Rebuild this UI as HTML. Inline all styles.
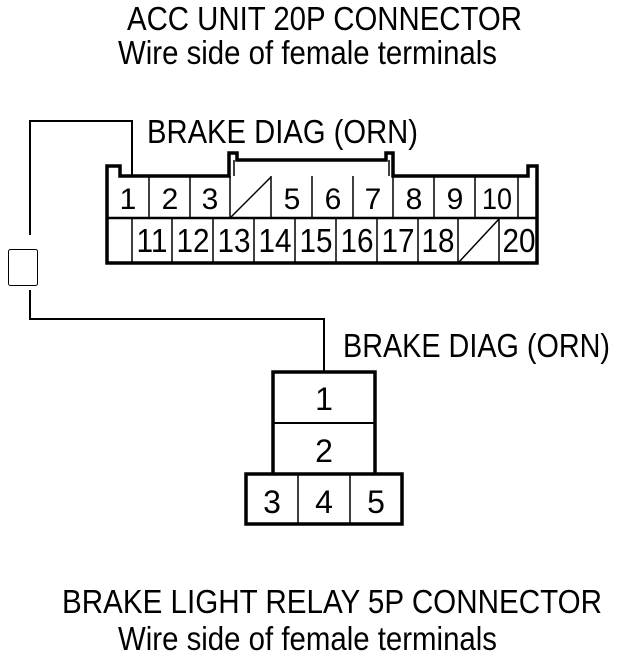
<!DOCTYPE html>
<html><head><meta charset="utf-8"><style>
html,body{margin:0;padding:0;background:#fff}
svg{display:block}
text{font-family:"Liberation Sans",Arial,sans-serif;fill:#000}
</style></head><body>
<svg width="624" height="660" viewBox="0 0 624 660" xmlns="http://www.w3.org/2000/svg">
<g font-size="33">
<text x="127" y="30" textLength="395" lengthAdjust="spacingAndGlyphs">ACC UNIT 20P CONNECTOR</text>
<text x="118" y="64" textLength="379" lengthAdjust="spacingAndGlyphs">Wire side of female terminals</text>
<text x="147" y="143" textLength="271" lengthAdjust="spacingAndGlyphs">BRAKE DIAG (ORN)</text>
<text x="343" y="357" textLength="267" lengthAdjust="spacingAndGlyphs">BRAKE DIAG (ORN)</text>
<text x="62" y="613" textLength="540" lengthAdjust="spacingAndGlyphs">BRAKE LIGHT RELAY 5P CONNECTOR</text>
<text x="118" y="650" textLength="379" lengthAdjust="spacingAndGlyphs">Wire side of female terminals</text>
</g>
<polyline points="132,176 132,121 30,121 30,235" fill="none" stroke="#000" stroke-width="2"/>
<rect x="8.5" y="249.5" width="29" height="36" rx="2" fill="none" stroke="#000" stroke-width="1"/>
<polyline points="30,290 30,319 324,319 324,372" fill="none" stroke="#000" stroke-width="2"/>
<g fill="none" stroke="#000">
<path d="M107,263 L107,166 L120,166 L120,176 L229,176 L229,153 L237,153 L237,160 L386,160 L386,153 L393,153 L393,176 L528,176 L528,166 L537,166 L537,263 Z" stroke-width="3.5"/>
<line x1="234" y1="160" x2="234" y2="176" stroke-width="1.5"/>
<line x1="389" y1="160" x2="389" y2="176" stroke-width="1.5"/>
<line x1="107" y1="218" x2="537" y2="218" stroke-width="2.5"/>
<g stroke-width="1.5">
<line x1="149" y1="176" x2="149" y2="218"/><line x1="190" y1="176" x2="190" y2="218"/>
<line x1="230" y1="176" x2="230" y2="218"/><line x1="271" y1="176" x2="271" y2="218"/>
<line x1="312" y1="176" x2="312" y2="218"/><line x1="353" y1="176" x2="353" y2="218"/>
<line x1="393" y1="176" x2="393" y2="218"/><line x1="434" y1="176" x2="434" y2="218"/>
<line x1="475" y1="176" x2="475" y2="218"/><line x1="518" y1="176" x2="518" y2="218"/>
<line x1="132" y1="218" x2="132" y2="263"/><line x1="172" y1="218" x2="172" y2="263"/>
<line x1="213" y1="218" x2="213" y2="263"/><line x1="254" y1="218" x2="254" y2="263"/>
<line x1="295" y1="218" x2="295" y2="263"/><line x1="336" y1="218" x2="336" y2="263"/>
<line x1="377" y1="218" x2="377" y2="263"/><line x1="418" y1="218" x2="418" y2="263"/>
<line x1="458" y1="218" x2="458" y2="263"/><line x1="499" y1="218" x2="499" y2="263"/>
<line x1="231" y1="217" x2="271" y2="177"/><line x1="459" y1="262" x2="499" y2="219"/>
</g>
</g>
<g font-size="30" text-anchor="middle">
<text x="128" y="209">1</text><text x="170" y="209">2</text><text x="210" y="209">3</text>
<text x="292" y="209">5</text><text x="333" y="209">6</text><text x="373" y="209">7</text>
<text x="414" y="209">8</text><text x="455" y="209">9</text><text x="497" y="209" textLength="30" lengthAdjust="spacingAndGlyphs">10</text>
</g>
<g font-size="33" text-anchor="middle">
<text x="152" y="252" textLength="31" lengthAdjust="spacingAndGlyphs">11</text>
<text x="193" y="252" textLength="33" lengthAdjust="spacingAndGlyphs">12</text>
<text x="234" y="252" textLength="33" lengthAdjust="spacingAndGlyphs">13</text>
<text x="275" y="252" textLength="33" lengthAdjust="spacingAndGlyphs">14</text>
<text x="316" y="252" textLength="33" lengthAdjust="spacingAndGlyphs">15</text>
<text x="357" y="252" textLength="33" lengthAdjust="spacingAndGlyphs">16</text>
<text x="398" y="252" textLength="33" lengthAdjust="spacingAndGlyphs">17</text>
<text x="438" y="252" textLength="33" lengthAdjust="spacingAndGlyphs">18</text>
<text x="519" y="252" textLength="33" lengthAdjust="spacingAndGlyphs">20</text>
</g>
<g fill="none" stroke="#000">
<path d="M273,474 L273,372 L375,372 L375,474" stroke-width="3.5"/>
<line x1="273" y1="423" x2="375" y2="423" stroke-width="2"/>
<rect x="246" y="474" width="156" height="50" stroke-width="3.5"/>
<line x1="298" y1="474" x2="298" y2="524" stroke-width="1.5"/>
<line x1="350" y1="474" x2="350" y2="524" stroke-width="1.5"/>
</g>
<g font-size="32" text-anchor="middle">
<text x="324" y="410">1</text><text x="324" y="462">2</text>
<text x="272" y="513">3</text><text x="324" y="513">4</text><text x="376" y="513">5</text>
</g>
</svg>
</body></html>
